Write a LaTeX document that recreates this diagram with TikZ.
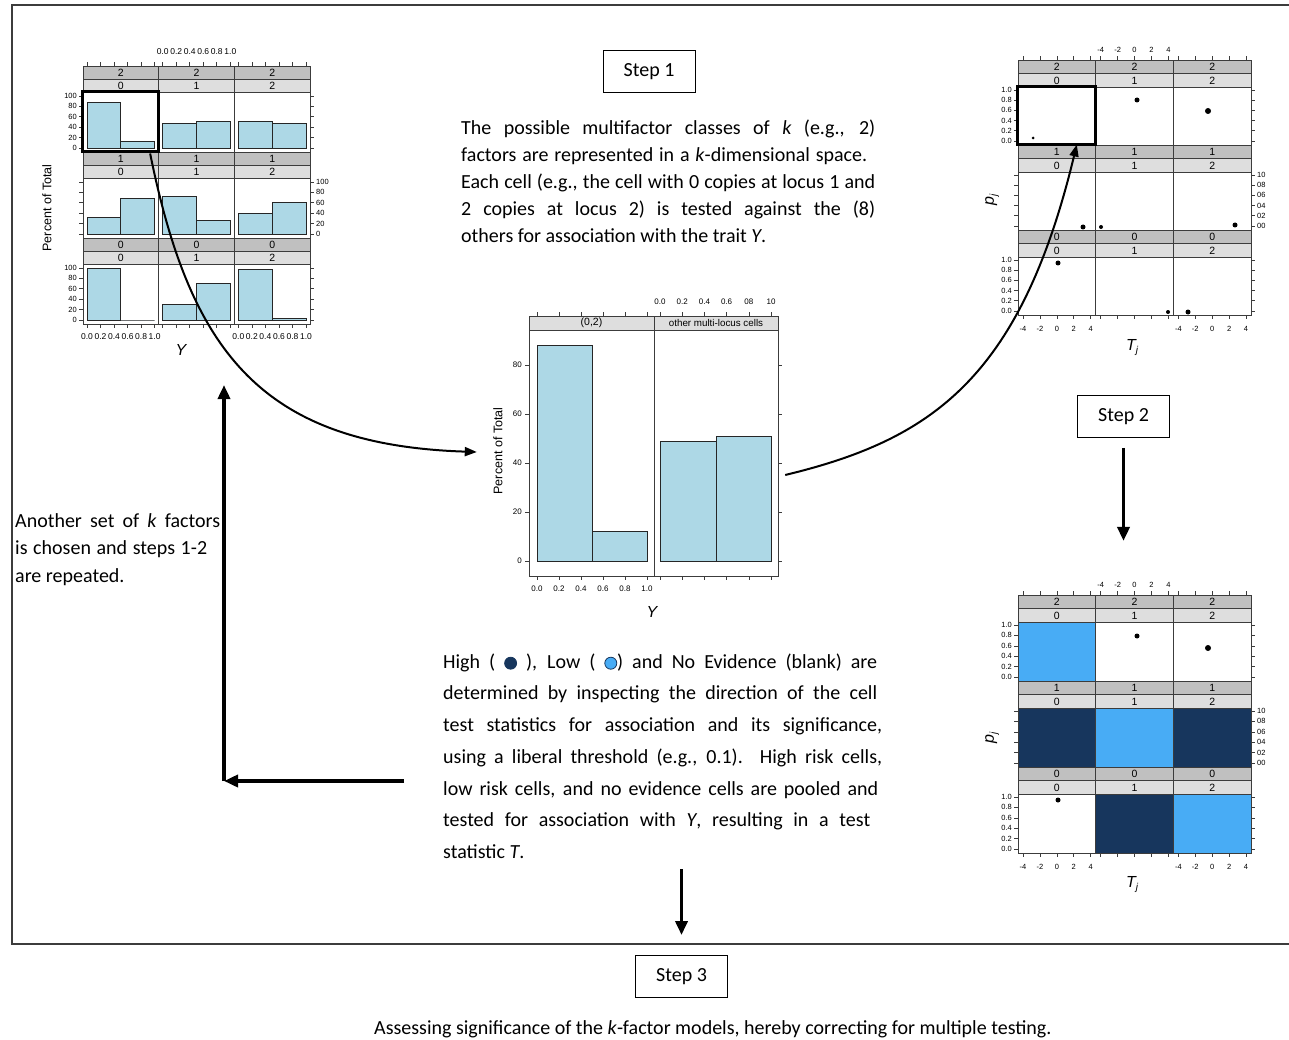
\documentclass[tikz,border=0pt]{standalone}
\usepackage{fontspec}
\setmainfont{Carlito}
\newfontfamily\plotfont{Liberation Sans}
\usetikzlibrary{arrows.meta,calc}

\definecolor{stripdark}{RGB}{192,192,192}
\definecolor{striplight}{RGB}{222,222,222}
\definecolor{barblue}{RGB}{173,216,230}
\definecolor{lowblue}{RGB}{72,172,245}
\definecolor{highnavy}{RGB}{23,54,93}
\definecolor{rulegray}{RGB}{60,60,60}

\tikzset{
  stripA/.style={draw=rulegray, fill=stripdark, line width=0.8pt},
  stripB/.style={draw=rulegray, fill=striplight, line width=0.8pt},
  panelbox/.style={draw=rulegray, line width=0.8pt},
  bar/.style={draw=black!85, fill=barblue, line width=0.9pt},
  tickmark/.style={draw=rulegray, line width=0.6pt},
  striptext/.style={font=\plotfont\fontsize{10.5}{10.5}\selectfont, inner sep=0pt},
  ticklab/.style={font=\plotfont\fontsize{7.5}{8}\selectfont, inner sep=0pt},
  denselab/.style={font=\plotfont\fontsize{8.5}{9}\selectfont, inner sep=0pt},
  axlab/.style={font=\plotfont\fontsize{12.5}{13}\selectfont, inner sep=0pt},
  varlab/.style={font=\plotfont\itshape\fontsize{16}{16}\selectfont, inner sep=0pt},
  stepbox/.style={draw, line width=0.9pt, minimum width=92pt, minimum height=42pt, inner sep=0pt, font=\fontsize{20}{24}\selectfont},
  body/.style={font=\fontsize{20}{27}\selectfont, inner sep=0pt, align=left, anchor=north west},
  flow/.style={line width=2pt, -{Triangle[length=12pt,width=9pt]}},
  bigflow/.style={line width=3.5pt, -{Triangle[length=14pt,width=12pt]}},
  celldot/.style={fill=black, circle, inner sep=0pt},
  hilite/.style={draw=black, line width=3pt, inner sep=0pt},
}

\newcommand\riskdot[1]{\tikz[baseline=-5pt]\filldraw[fill=#1, draw=highnavy, line width=0.8pt] (0,0) circle (6pt);}
\newcommand\subj{\raisebox{-0.35ex}{\fontsize{10}{10}\selectfont j}}

% 3x3 lattice of p-value panels (locus 1 in rows, locus 2 in columns)
% #1 top edge, #2 row height, #3 prefix for node names
\newcommand\pvaluelattice[3]{%
  \foreach \r in {0,1,2}{
    \foreach \c in {0,1,2}{
      \pgfmathsetmacro\xl{1018+77.67*\c}
      \pgfmathsetmacro\xr{\xl+77.67}
      \pgfmathsetmacro\xm{\xl+38.83}
      \pgfmathsetmacro\yt{#1+#2*\r}
      \pgfmathtruncatemacro\lab{2-\r}
      \path[stripA] (\xl,\yt) rectangle (\xr,\yt+13.5);
      \path[stripB] (\xl,\yt+13.5) rectangle (\xr,\yt+27);
      \path[panelbox] (\xl,\yt+27) rectangle (\xr,\yt+#2);
      \node[striptext] (#3L\r\c) at (\xm,\yt+7) {\lab};
      \node[striptext] (#3G\r\c) at (\xm,\yt+20.5) {\c};
    }
    \foreach \k/\tl/\tr in {0/0.0/00,1/0.2/02,2/0.4/04,3/0.6/06,4/0.8/08,5/1.0/10}{
      \pgfmathsetmacro\ty{#1+#2*\r+#2-4-\k*(#2-34)/5}
      \path[tickmark] (1018,\ty) -- ++(-4,0);
      \path[tickmark] (1251,\ty) -- ++(4,0);
      \ifnum\r=1
        \node[ticklab, anchor=west] (#3R\r\k) at (1257,\ty) {\tr};
      \else
        \node[ticklab, anchor=east] (#3Y\r\k) at (1012,\ty) {\tl};
      \fi
    }
  }
  \foreach \c in {0,1,2}{
    \foreach \k/\tl in {0/-4,1/-2,2/0,3/2,4/4}{
      \pgfmathsetmacro\tx{1018+77.67*\c+5+\k*16.92}
      \path[tickmark] (\tx,#1) -- ++(0,-4);
      \path[tickmark] (\tx,#1+3*#2) -- ++(0,4);
      \ifnum\c=1
        \node[ticklab] (#3T\c\k) at (\tx,#1-10) {\tl};
      \else
        \node[ticklab] (#3B\c\k) at (\tx,#1+3*#2+14) {\tl};
      \fi
    }
  }
}

\begin{document}
\begin{tikzpicture}[x=1pt,y=-1pt]
\fill[white] (0,0) rectangle (1289,1040);
\path[use as bounding box] (0,0) rectangle (1289,1040);

% outer frame (open on the right)
\draw[rulegray, line width=1.4pt] (1289,5) -- (12,5) -- (12,944) -- (1289,944);

% ---------- histograms of Y for every two-locus cell ----------
\foreach \r/\c/\a/\b in {0/0/88/12,0/1/47/52,0/2/52/48,1/0/32/68,1/1/73/27,1/2/40/60,2/0/100/0,2/1/30/70,2/2/97/3}{
  \pgfmathsetmacro\xl{83+75.67*\c}
  \pgfmathsetmacro\xr{\xl+75.67}
  \pgfmathsetmacro\xm{\xl+37.83}
  \pgfmathsetmacro\yt{66+86*\r}
  \pgfmathtruncatemacro\lab{2-\r}
  \path[stripA] (\xl,\yt) rectangle (\xr,\yt+13);
  \path[stripB] (\xl,\yt+13) rectangle (\xr,\yt+26);
  \path[panelbox] (\xl,\yt+26) rectangle (\xr,\yt+86);
  \node[striptext] (aL\r\c) at (\xm,\yt+6.5) {\lab};
  \node[striptext] (aG\r\c) at (\xm,\yt+19.5) {\c};
  \path[bar] (\xl+4,\yt+82) rectangle (\xm,\yt+82-0.52*\a);
  \path[bar] (\xm,\yt+82) rectangle (\xr-4,\yt+82-0.52*\b);
}
\foreach \r in {0,1,2}{
  \foreach \v in {0,20,...,100}{
    \pgfmathsetmacro\ty{66+86*\r+82-0.52*\v}
    \path[tickmark] (83,\ty) -- ++(-4,0);
    \path[tickmark] (310,\ty) -- ++(4,0);
    \ifnum\r=1
      \node[ticklab, anchor=west] (aR\r\v) at (316,\ty) {\v};
    \else
      \node[ticklab, anchor=east] (aY\r\v) at (77,\ty) {\v};
    \fi
  }
}
\foreach \c in {0,1,2}{
  \foreach \u/\tl in {0/0.0,1/0.2,2/0.4,3/0.6,4/0.8,5/1.0}{
    \pgfmathsetmacro\tx{83+75.67*\c+4+\u*13.53}
    \path[tickmark] (\tx,66) -- ++(0,-4);
    \path[tickmark] (\tx,324) -- ++(0,4);
    \ifnum\c=1
      \node[denselab] (aT\c\u) at (\tx,52) {\tl};
    \else
      \node[denselab] (aB\c\u) at (\tx,337) {\tl};
    \fi
  }
}
\node[axlab, rotate=90] (aYlab) at (47,208) {Percent of Total};
\node[varlab] (aXlab) at (181,350) {Y};
\node[hilite, minimum width=75.67pt, minimum height=60pt] (boxA) at (120.8,122) {};

% ---------- pooled comparison: cell (0,2) against all others ----------
\path[stripB] (529,316) rectangle (654,330);
\path[stripB] (654,316) rectangle (778,330);
\path[panelbox] (529,316) rectangle (778,576);
\path[panelbox] (654,316) -- (654,576);
\node[striptext] (bS1) at (591.5,323) {(0,2)};
\node[striptext, font=\plotfont\fontsize{9.8}{10}\selectfont] (bS2) at (716,323) {other multi-locus cells};
\path[bar] (537,561) rectangle (592,345.4);
\path[bar] (592,561) rectangle (647,531.6);
\path[bar] (660,561) rectangle (716,441);
\path[bar] (716,561) rectangle (771,436);
\foreach \v in {0,20,...,80}{
  \pgfmathsetmacro\ty{561-2.45*\v}
  \path[tickmark] (529,\ty) -- ++(-4,0);
  \path[tickmark] (778,\ty) -- ++(4,0);
  \node[ticklab, font=\plotfont\fontsize{8}{8}\selectfont, anchor=east] (bY\v) at (522,\ty) {\v};
}
\foreach \u/\tl/\tu in {0/0.0/0.0,1/0.2/0.2,2/0.4/0.4,3/0.6/0.6,4/0.8/08,5/1.0/10}{
  \path[tickmark] (537+22*\u,316) -- ++(0,-4);
  \path[tickmark] (660+22.2*\u,316) -- ++(0,-4);
  \path[tickmark] (537+22*\u,576) -- ++(0,4);
  \path[tickmark] (660+22.2*\u,576) -- ++(0,4);
  \node[ticklab, font=\plotfont\fontsize{8}{8}\selectfont] (bB\u) at (537+22*\u,589) {\tl};
  \node[ticklab, font=\plotfont\fontsize{8}{8}\selectfont] (bT\u) at (660+22.2*\u,302) {\tu};
}
\node[axlab, rotate=90] (bYlab) at (498,451) {Percent of Total};
\node[varlab] (bXlab) at (652,612) {Y};
\node[minimum width=249pt, minimum height=260pt, inner sep=0pt] (midplot) at (653.5,446) {};

% ---------- cell test statistics T_j and p-values ----------
\pvaluelattice{60}{85}{c}
\node[celldot, minimum size=5pt] (c1) at (1137,100) {};
\node[celldot, minimum size=6pt] (c2) at (1208,111) {};
\node[celldot, minimum size=3pt] (c3) at (1033,138) {};
\node[celldot, minimum size=5pt] (c4) at (1083,227) {};
\node[celldot, minimum size=4pt] (c5) at (1101,227) {};
\node[celldot, minimum size=5pt] (c6) at (1235,225) {};
\node[celldot, minimum size=5pt] (c7) at (1058,263) {};
\node[celldot, minimum size=4pt] (c8) at (1168,312) {};
\node[celldot, minimum size=5pt] (c9) at (1188,312) {};
\node[varlab, rotate=90] (cYlab) at (992,200) {p\subj};
\node[varlab] (cXlab) at (1132,348) {T\subj};
\node[hilite, minimum width=77.67pt, minimum height=58pt] (boxC) at (1056.8,116) {};

% ---------- cells labelled high / low risk ----------
\foreach \r/\c/\col in {0/0/lowblue,1/0/highnavy,1/1/lowblue,1/2/highnavy,2/1/highnavy,2/2/lowblue}{
  \fill[\col] (1018+77.67*\c,595+86*\r+27) rectangle ++(77.67,59);
}
\pvaluelattice{595}{86}{d}
\node[celldot, minimum size=5pt] (d1) at (1137,636) {};
\node[celldot, minimum size=6pt] (d2) at (1208,648) {};
\node[celldot, minimum size=5pt] (d3) at (1058,800) {};
\node[varlab, rotate=90] (dYlab) at (992,738) {p\subj};
\node[varlab] (dXlab) at (1132,885) {T\subj};

% ---------- step labels and explanations ----------
\node[stepbox] (step1) at (649,71.5) {Step 1};
\node[stepbox] (step2) at (1123.5,416.5) {Step 2};
\node[stepbox] (step3) at (681.5,976.5) {Step 3};

\node[body] (s1txt) at (461,118) {%
\makebox[414pt][s]{\rule{0pt}{16pt}The possible multifactor classes of \textit{k} (e.g., 2)}\\
\makebox[406pt][s]{factors are represented in a \textit{k}-dimensional space.}\\
\makebox[414pt][s]{Each cell (e.g., the cell with 0 copies at locus 1 and}\\
\makebox[414pt][s]{2 copies at locus 2) is tested against the (8)}\\
others for association with the trait \textit{Y}.};

\node[body, font=\fontsize{20}{31.7}\selectfont] (s2txt) at (443,652) {%
\makebox[434pt][s]{\rule{0pt}{16pt}High ( \riskdot{highnavy} ), Low ( \riskdot{lowblue}) and No Evidence (blank) are}\\
\makebox[434pt][s]{determined by inspecting the direction of the cell}\\
\makebox[439pt][s]{test statistics for association and its significance,}\\
\makebox[439pt][s]{using a liberal threshold (e.g., 0.1). High risk cells,}\\
\makebox[435pt][s]{low risk cells, and no evidence cells are pooled and}\\
\makebox[427pt][s]{tested for association with \textit{Y}, resulting in a test}\\
statistic \textit{T}.};

\node[body, font=\fontsize{20}{27.5}\selectfont] (looptxt) at (15,511) {%
\makebox[205pt][s]{\rule{0pt}{16pt}Another set of \textit{k} factors}\\
\makebox[192pt][s]{is chosen and steps 1-2}\\
are repeated.};

\node[font=\fontsize{20}{24}\selectfont, inner sep=0pt, anchor=base west] (s3txt) at (374,1034)
  {Assessing significance of the \textit{k}-factor models, hereby correcting for multiple testing.};

% ---------- connectors ----------
\draw[flow] ([xshift=-10pt]boxA.south east) .. controls (190,350) and (260,445) .. ([xshift=-52pt,yshift=-6pt]midplot.west);
\draw[flow] ([xshift=7pt,yshift=-29pt]midplot.east) .. controls (930,440) and (1020,380) .. ([xshift=20pt,yshift=2pt]boxC.south);
\draw[bigflow] ([yshift=-10pt]step2.south) -- ++(0,93);
\draw[bigflow] ([yshift=86pt]step3.north) -- ([yshift=20pt]step3.north);
\coordinate (loopfrom) at (404,781);
\coordinate (loopcorner) at (224,781);
\coordinate (loopto) at (224,385);
\draw[bigflow] (loopfrom) -- (loopcorner);
\draw[bigflow] (loopcorner) -- (loopto);
\end{tikzpicture}
\end{document}
